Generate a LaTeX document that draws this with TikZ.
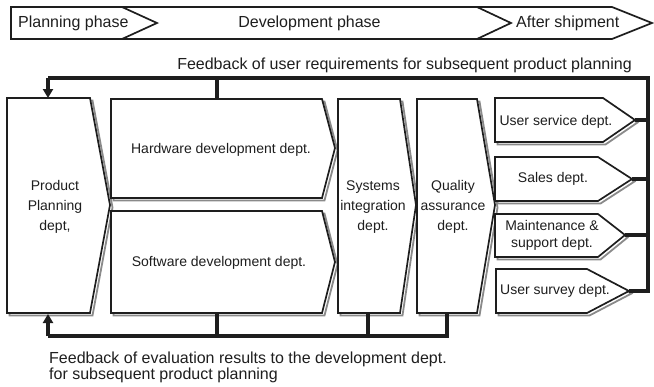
\documentclass[tikz,border=0pt]{standalone}
\usepackage{fontspec}
\setmainfont{Liberation Sans}
\usetikzlibrary{arrows.meta}
\definecolor{linec}{HTML}{1E1E1E}
\definecolor{shadc}{HTML}{8A8A8A}
\begin{document}
\begin{tikzpicture}[x=1pt,y=-1pt,
  box/.style={draw=linec, line width=1.7pt, fill=white, line join=miter},
  shad/.style={draw=shadc, line width=1.8pt},
  phasebar/.style={draw=linec, line width=1.7pt},
  fb/.style={draw=linec, line width=3.5pt},
  fbarrow/.style={fb, -{Triangle[length=9pt,width=10pt]}},
  lbl/.style={font=\fontsize{14}{20}\selectfont, align=center, inner sep=0pt, text=linec},
  biglbl/.style={font=\fontsize{16}{19}\selectfont, inner sep=0pt, text=linec},
]
\useasboundingbox (0,0) rectangle (654,386);
\newcommand\shapebox[1]{\draw[shad, shift={(2.5,2.5)}] #1; \draw[box] #1;}

% phase bar
\draw[phasebar] (11,7) -- (612,7) -- (652,23) -- (612,39) -- (11,39) -- cycle;
\draw[phasebar] (122,7) -- (157,23) -- (122,39);
\draw[phasebar] (477,7) -- (511,23) -- (477,39);
\node[biglbl, anchor=west] (plan) at (18,23) {Planning phase};
\node[biglbl] (dev) at (309.5,23) {Development phase};
\node[biglbl, anchor=west] (after) at (516,23) {After shipment};

% boxes
\shapebox{(7,98) -- (90,98) -- (110,205) -- (90,313) -- (7,313) -- cycle}
\shapebox{(111,99) -- (322,99) -- (335,148) -- (322,198) -- (111,198) -- cycle}
\shapebox{(111,211) -- (322,211) -- (335,262) -- (322,313) -- (111,313) -- cycle}
\shapebox{(338,99) -- (400,99) -- (416,205) -- (400,313) -- (338,313) -- cycle}
\shapebox{(417,99) -- (477,99) -- (495,205) -- (477,313) -- (417,313) -- cycle}
\shapebox{(495,98) -- (603,98) -- (635,120) -- (603,142) -- (495,142) -- cycle}
\shapebox{(495,157) -- (598,157) -- (632,179) -- (598,201) -- (495,201) -- cycle}
\shapebox{(495,214) -- (598,214) -- (625,235) -- (598,257) -- (495,257) -- cycle}
\shapebox{(496,269) -- (587,269) -- (629,291) -- (587,313) -- (496,313) -- cycle}

% labels
\node[lbl] (prod) at (55,207) {Product\\Planning\\dept,};
\node[lbl] (hw) at (221,150) {Hardware development dept.};
\node[lbl] (sw) at (219,263) {Software development dept.};
\node[lbl] (sys) at (373,207) {Systems\\integration\\dept.};
\node[lbl] (qa) at (453,207) {Quality\\assurance\\dept.};
\node[lbl] (us) at (556,122) {User service dept.};
\node[lbl] (sales) at (553,179) {Sales dept.};
\node[lbl, font=\fontsize{14}{17}\selectfont] (maint) at (552,235) {Maintenance \&\\support dept.};
\node[lbl] (survey) at (555,291) {User survey dept.};

% connection points
\coordinate (prodTop) at (48,98);
\coordinate (prodBot) at (48,314);
\coordinate (hwTop) at (217,99);
\coordinate (swBot) at (217,313);
\coordinate (sysBot) at (368,313);
\coordinate (qaBot) at (447,313);
\coordinate (usPt) at (635,120);
\coordinate (salesPt) at (632,179);
\coordinate (maintPt) at (625,235);
\coordinate (surveyPt) at (629,291);
\coordinate (topL) at (48,78);
\coordinate (topR) at (648,78);
\coordinate (botL) at (48,336);
\coordinate (botR) at (447,336);

% top feedback
\draw[fb, line join=miter] (surveyPt) -| (topR) -- (topL);
\draw[fbarrow] (topL) -- (prodTop);
\draw[fb] (hwTop) -- (hwTop |- topL);
\draw[fb] (usPt) -- (usPt -| topR);
\draw[fb] (salesPt) -- (salesPt -| topR);
\draw[fb] (maintPt) -- (maintPt -| topR);
\node[biglbl, anchor=base] (fbtop) at (404.5,69) {Feedback of user requirements for subsequent product planning};

% bottom feedback
\draw[fb, line join=miter] (qaBot) -- (botR) -- (botL);
\draw[fbarrow] (botL) -- (prodBot);
\draw[fb] (swBot) -- (swBot |- botL);
\draw[fb] (sysBot) -- (sysBot |- botL);
\node[biglbl, anchor=base west] (fbbot1) at (49,363) {Feedback of evaluation results to the development dept.};
\node[biglbl, anchor=base west] (fbbot2) at (49,379) {for subsequent product planning};
\end{tikzpicture}
\end{document}
